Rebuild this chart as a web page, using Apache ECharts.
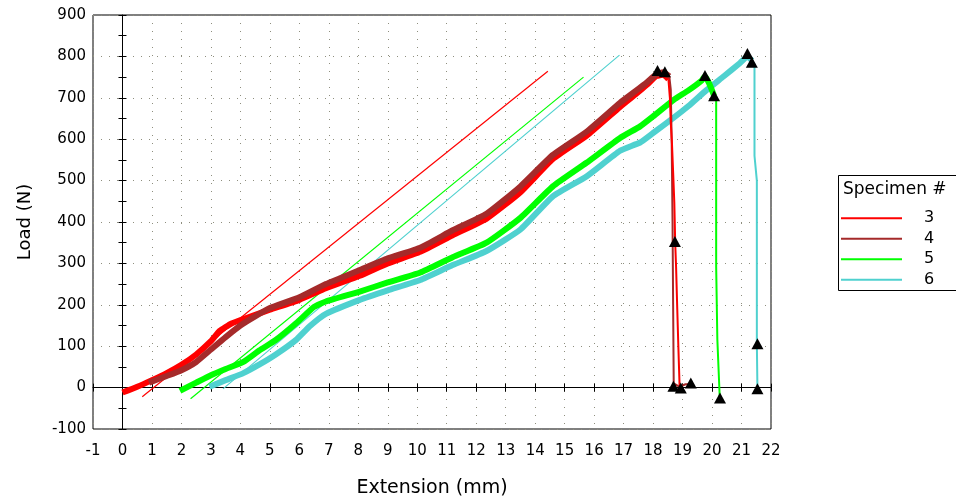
<!DOCTYPE html>
<html>
<head>
<meta charset="utf-8">
<script src="https://cdn.jsdelivr.net/npm/echarts@6/dist/echarts.min.js"></script>
<style>
  html, body { margin: 0; padding: 0; background: #fff; }
  #chart { width: 956px; height: 499px; }
</style>
</head>
<body>
<div id="chart"></div>
<script>
// Load–extension curves while loading, [extension mm, load N]
const specimen3 = [[0,-12],[0.5,2],[1,18],[1.5,35],[2,55],[2.5,80],[3,112],[3.3,137],[3.7,155],[4.2,168],[5,188],[6,212],[6.9,240],[8.05,270],[9,300],[10.1,328],[11.2,368],[12.35,408],[13.5,472],[14.6,552],[15.74,608],[16.88,678],[17.4,708],[17.8,732],[18.1,752],[18.35,756],[18.52,745]];
const specimen4 = [[0.9,12],[1.5,28],[2,42],[2.5,62],[3,92],[3.5,122],[4,150],[4.5,172],[5,192],[6,218],[6.9,250],[8.05,284],[9,312],[10.1,338],[11.2,380],[12.35,420],[13.5,486],[14.6,562],[15.74,618],[16.88,688],[17.4,716],[17.8,738],[18.1,756],[18.35,762],[18.55,752]];
const specimen5 = [[1.95,-8],[2.5,12],[3,30],[3.5,45],[4.1,62],[4.65,90],[5.2,115],[5.9,156],[6.5,195],[6.9,208],[8.05,232],[9,254],[10.1,278],[11.2,315],[12.35,350],[13.5,410],[14.6,486],[15.74,543],[16.88,603],[17.56,631],[18,655],[18.7,695],[19.2,718],[19.65,742],[19.76,752],[19.9,735],[20.07,705]];
const specimen6 = [[2.95,2],[3.5,18],[4.1,35],[4.65,56],[5.2,80],[5.9,116],[6.35,148],[6.9,178],[8.05,212],[9,235],[10.1,260],[11.2,296],[12.35,330],[13.5,382],[14.6,462],[15.74,510],[16.88,572],[17.56,592],[18,615],[18.7,652],[19.2,680],[19.8,718],[20.4,752],[20.95,784],[21.2,800],[21.35,790]];

// Failure (load drop) traces
const failure3 = [[18.52,745],[18.57,700],[18.6,640],[18.64,590],[18.68,520],[18.72,447],[18.75,350],[18.78,292],[18.82,190],[18.86,92],[18.9,2]];
const failure4 = [[18.55,752],[18.6,720],[18.63,600],[18.66,400],[18.68,200],[18.7,10],[18.9,2],[19.1,8],[19.25,8]];
const failure5 = [[20.07,705],[20.14,700],[20.14,292],[20.18,292],[20.18,116],[20.24,116],[20.26,-22]];
const failure6 = [[21.35,790],[21.44,780],[21.44,560],[21.52,500],[21.52,106],[21.54,-3]];

// Fitted modulus lines (end points)
const fit3 = [[0.67,-22],[14.43,764]];
const fit5 = [[2.31,-27],[15.64,750]];
const fit6 = [[3.41,-3],[16.86,803]];

// Marked events (peak / break points)
const events3 = [[18.15,766],[18.74,353],[18.94,-1]];
const events4 = [[18.4,763],[18.69,3],[19.28,11]];
const events5 = [[19.76,754],[20.07,705],[20.27,-25]];
const events6 = [[21.2,807],[21.35,786],[21.54,106],[21.54,-3]];

const names = ['3','4','5','6'];
const colors = ['#ff0000','#a52a2a','#00ff00','#4fd1cf'];

const FONT = 'DejaVu Sans';
const gridCfg = { left: 93, right: 185, top: 15, bottom: 70 };

const chart = echarts.init(document.getElementById('chart'), null, { renderer: 'canvas' });

const dotted = { color: '#8e8e7e', type: [1, 7], width: 1 };
const tickStyle = { color: '#000', width: 1 };

function curve(name, data, color) {
  return { name, type: 'line', data, symbol: 'none', showSymbol: false, smooth: 0.15,
    lineStyle: { color, width: 6, join: 'round' }, itemStyle: { color }, z: 3, animation: false };
}
function failure(name, data, color) {
  return { name, type: 'line', data, symbol: 'none', showSymbol: false,
    lineStyle: { color, width: 2 }, itemStyle: { color }, z: 3, animation: false };
}
function fitLine(name, data, color) {
  return { name, type: 'line', data, symbol: 'none', lineStyle: { color, width: 1.2 },
    itemStyle: { color }, z: 2, animation: false };
}
function events(name, data) {
  return { name, type: 'scatter', data, symbol: 'triangle', symbolSize: [12, 11],
    itemStyle: { color: '#000', opacity: 1 }, z: 5, animation: false };
}

chart.setOption({
  backgroundColor: '#fff',
  animation: false,
  grid: Object.assign({ show: true, borderColor: '#000', borderWidth: 1, containLabel: false, outerBoundsMode: 'none' }, gridCfg),
  xAxis: [{
    type: 'value', min: -1, max: 22, interval: 1,
    name: 'Extension (mm)', nameLocation: 'middle', nameGap: 50,
    nameTextStyle: { fontFamily: FONT, fontSize: 19, color: '#000' },
    axisLine: { lineStyle: { color: '#000' } },
    axisTick: { length: 4, lineStyle: tickStyle },
    axisLabel: { fontFamily: FONT, fontSize: 15, color: '#000', margin: 15 },
    splitLine: { show: true, lineStyle: dotted }
  }, {
    type: 'value', min: -1, max: 22, interval: 1, position: 'bottom',
    axisLine: { show: false }, axisLabel: { show: false }, splitLine: { show: false },
    axisTick: { inside: true, length: 4, lineStyle: tickStyle }
  }],
  yAxis: [{
    type: 'value', min: -100, max: 900, interval: 100,
    name: 'Load (N)', nameLocation: 'middle', nameGap: 59,
    nameTextStyle: { fontFamily: FONT, fontSize: 18, color: '#000' },
    axisLine: { show: true, lineStyle: { color: '#000' } },
    axisTick: { show: true, length: 4, lineStyle: tickStyle },
    minorTick: { show: true, splitNumber: 2, length: 4, lineStyle: tickStyle },
    axisLabel: { fontFamily: FONT, fontSize: 15, color: '#000', margin: 7 },
    splitLine: { show: true, lineStyle: dotted }
  }, {
    type: 'value', min: -100, max: 900, interval: 100, position: 'left',
    axisLine: { show: false }, axisLabel: { show: false }, splitLine: { show: false },
    axisTick: { show: true, inside: true, length: 4, lineStyle: tickStyle },
    minorTick: { show: true, splitNumber: 2, length: 4, lineStyle: tickStyle }
  }],
  legend: {
    data: names, orient: 'vertical', left: 841, top: 210, padding: 0,
    icon: 'rect', itemWidth: 61, itemHeight: 2, itemGap: 4,
    textStyle: { fontFamily: FONT, fontSize: 16, color: '#000', lineHeight: 16.5, padding: [0, 0, 0, 17] },
    selectedMode: false
  },
  graphic: [
    { type: 'rect', shape: { x: 838.5, y: 175.5, width: 130, height: 115 },
      style: { fill: '#fff', stroke: '#000', lineWidth: 1 }, z: -1 },
    { type: 'text', x: 843, y: 181, style: { text: 'Specimen #', fontFamily: FONT, fontSize: 17, fill: '#000' } }
  ],
  series: [
    fitLine('fit 3', fit3, colors[0]),
    fitLine('fit 5', fit5, colors[2]),
    fitLine('fit 6', fit6, colors[3]),
    curve(names[3], specimen6, colors[3]),
    curve(names[2], specimen5, colors[2]),
    curve(names[0], specimen3, colors[0]),
    curve(names[1], specimen4, colors[1]),
    failure(names[3], failure6, colors[3]),
    failure(names[2], failure5, colors[2]),
    failure(names[1], failure4, colors[1]),
    failure(names[0], failure3, colors[0]),
    events('events 3', events3),
    events('events 4', events4),
    events('events 5', events5),
    events('events 6', events6)
  ]
});
</script>
</body>
</html>
